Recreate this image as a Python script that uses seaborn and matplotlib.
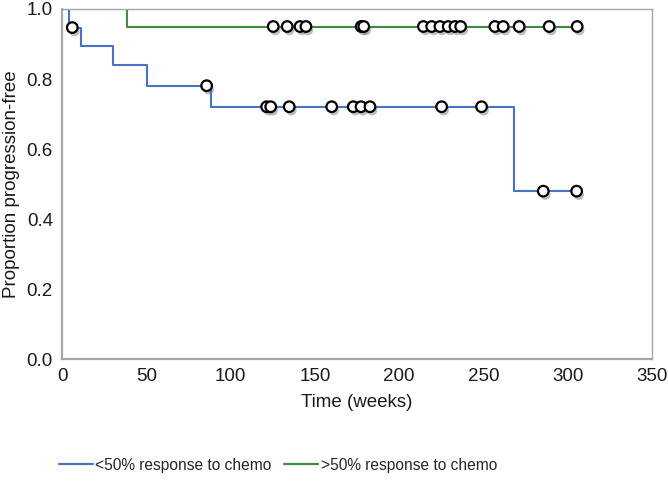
import numpy as np
import pandas as pd
import matplotlib
matplotlib.use("Agg")
import matplotlib.pyplot as plt
import matplotlib.patheffects as pe
from matplotlib.lines import Line2D
import seaborn as sns

# ---- data ----
groups = ["<50% response to chemo", ">50% response to chemo"]
blue_step_t = [0, 4.3, 11.3, 30.0, 50.2, 88.2, 268.3, 305.3]
blue_step_s = [1.0, 0.947, 0.895, 0.840, 0.781, 0.721, 0.480, 0.480]
green_step_t = [0, 38.4, 305.6]
green_step_s = [1.0, 0.95, 0.95]
blue_cens_t = [6.1, 85.8, 121.4, 123.8, 134.8, 160.0, 172.8, 177.4, 182.7,
               225.2, 248.9, 285.5, 305.3]
blue_cens_s = [0.947, 0.781, 0.721, 0.721, 0.721, 0.721, 0.721, 0.721, 0.721,
               0.721, 0.721, 0.480, 0.480]
green_cens_t = [125.3, 133.6, 141.2, 144.7, 177.5, 179.0, 214.4, 219.3, 224.2,
                229.1, 233.1, 236.5, 256.8, 261.7, 271.2, 289.0, 305.6]
green_cens_s = [0.95] * len(green_cens_t)
x_ticks = [0, 50, 100, 150, 200, 250, 300, 350]
y_ticks = [0.0, 0.2, 0.4, 0.6, 0.8, 1.0]
colors = ["#4A72C2", "#3C8E3C"]

steps = pd.concat([
    pd.DataFrame({"t": blue_step_t, "s": blue_step_s, "g": groups[0]}),
    pd.DataFrame({"t": green_step_t, "s": green_step_s, "g": groups[1]}),
], ignore_index=True)
cens = pd.concat([
    pd.DataFrame({"t": blue_cens_t, "s": blue_cens_s, "g": groups[0]}),
    pd.DataFrame({"t": green_cens_t, "s": green_cens_s, "g": groups[1]}),
], ignore_index=True)

sns.set_style("white")
plt.rcParams["font.family"] = ["Liberation Sans", "DejaVu Sans"]

fig = plt.figure(figsize=(6.68, 4.90), dpi=100)
ax = fig.add_axes([62 / 668, 1 - 359.3 / 490, 590 / 668, 350.3 / 490])

sns.lineplot(data=steps, x="t", y="s", hue="g", hue_order=groups,
             palette=colors, estimator=None, sort=False,
             drawstyle="steps-post", linewidth=1.5, ax=ax, legend=False)
sns.scatterplot(data=cens, x="t", y="s", marker="o", s=58,
                facecolor="white", edgecolor="black", linewidth=1.6,
                ax=ax, legend=False, zorder=5)
for coll in ax.collections:
    coll.set_path_effects([pe.SimplePatchShadow(offset=(1.5, -2.5),
                                                shadow_rgbFace="0.45", alpha=0.45),
                           pe.Normal()])
    coll.set_clip_on(False)

ax.set_xlim(0, 350)
ax.set_ylim(0, 1.0)
ax.set_xticks(x_ticks)
ax.set_yticks(y_ticks)
ax.set_xticklabels([str(v) for v in x_ticks])
ax.set_yticklabels([f"{v:.1f}" for v in y_ticks])

gray = "#A6A6A6"
for side in ["left", "bottom"]:
    ax.spines[side].set_color(gray)
    ax.spines[side].set_linewidth(1.6)
for side in ["top", "right"]:
    ax.spines[side].set_color(gray)
    ax.spines[side].set_linewidth(1.0)
    ax.spines[side].set_visible(True)
ax.tick_params(axis="both", direction="inout", length=7, width=1.2,
               color=gray, labelsize=13.5, labelcolor="#1a1a1a", pad=3)

ax.set_xlabel("Time (weeks)", fontsize=13.5, color="#1a1a1a")
ax.xaxis.set_label_coords(0.5, -0.122)
ax.xaxis.label.set_va("center")
ax.set_ylabel("Proportion progression-free", fontsize=13.5, color="#1a1a1a")
ax.yaxis.set_label_coords(-0.086, 0.5)
ax.yaxis.label.set_va("center")

handles = [Line2D([], [], color=c, linewidth=1.6) for c in colors]
fig.legend(handles, groups, loc="center", bbox_to_anchor=(278 / 668, 1 - 465 / 490),
           ncol=2, frameon=False, fontsize=11.2, handlelength=2.2,
           handletextpad=0.15, columnspacing=0.8)

fig.savefig("out.png", dpi=100)
